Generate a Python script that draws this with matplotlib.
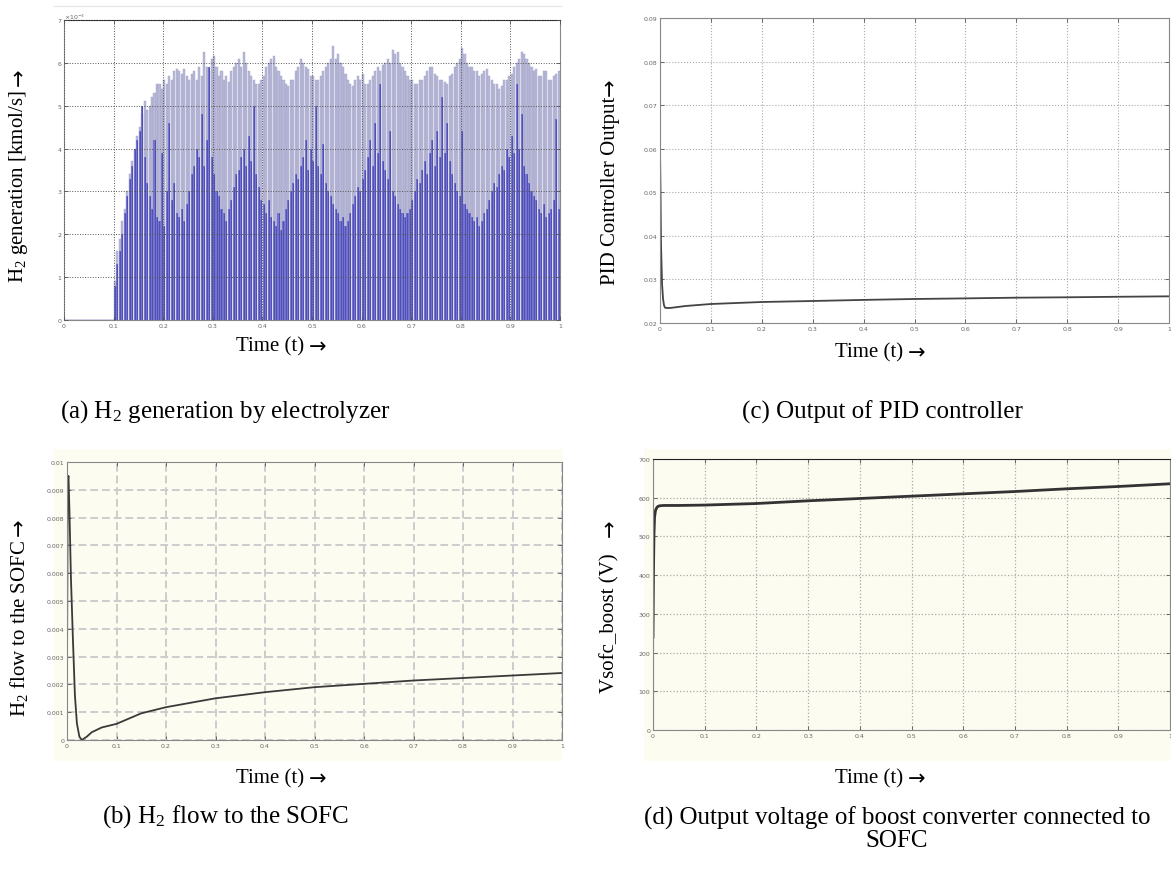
import numpy as np
import matplotlib
matplotlib.use('Agg')
import matplotlib.pyplot as plt
from matplotlib.lines import Line2D
from matplotlib.patches import Rectangle

plt.rcParams['font.family'] = ['Liberation Serif', 'DejaVu Serif']
plt.rcParams['mathtext.default'] = 'regular'

# (a) H2 generation: one spike every 5 ms after 0.1 s, heights in 1e-3 kmol/s
h2_t0 = 0.1025
h2_step = 0.005
h2_peak = [
    0.9, 1.6, 1.9, 2.3, 2.6, 3.0, 3.4, 3.7, 4.0, 4.3,
    4.5, 4.8, 5.1, 4.9, 5.0, 5.2, 5.3, 5.5, 5.5, 5.4,
    5.6, 5.5, 5.7, 5.6, 5.8, 5.85, 5.8, 5.75, 5.85, 5.7,
    5.6, 5.75, 5.8, 5.6, 5.9, 5.7, 6.25, 5.9, 5.8, 6.1,
    6.15, 5.9, 5.7, 5.8, 5.6, 5.7, 5.55, 5.8, 5.9, 6.0,
    6.1, 5.9, 6.25, 6.0, 5.8, 5.7, 5.6, 5.5, 5.5, 5.6,
    5.7, 5.9, 6.0, 6.1, 6.15, 5.9, 5.8, 5.7, 5.6, 5.5,
    5.45, 5.6, 5.6, 5.8, 5.9, 6.1, 6.0, 5.9, 5.85, 5.7,
    5.7, 5.6, 5.6, 5.7, 5.8, 5.9, 6.0, 6.1, 6.4, 6.1,
    6.2, 6.0, 5.9, 5.75, 5.6, 5.5, 5.45, 5.6, 5.7, 5.6,
    5.75, 5.5, 5.5, 5.6, 5.7, 5.8, 5.9, 5.8, 5.95, 6.0,
    6.1, 6.0, 6.3, 6.2, 6.25, 6.0, 5.9, 5.8, 5.7, 5.6,
    5.6, 5.5, 5.5, 5.6, 5.6, 5.7, 5.8, 5.9, 5.9, 5.75,
    5.7, 5.6, 5.6, 5.55, 5.5, 5.7, 5.75, 5.9, 6.0, 6.1,
    6.35, 6.2, 6.0, 5.9, 5.9, 5.8, 5.8, 5.7, 5.75, 5.8,
    5.85, 5.7, 5.6, 5.5, 5.5, 5.4, 5.45, 5.6, 5.6, 5.7,
    5.75, 5.9, 6.0, 6.1, 6.25, 6.2, 6.1, 6.0, 5.9, 5.8,
    5.85, 5.7, 5.7, 5.8, 5.8, 5.6, 5.6, 5.7, 5.75, 5.8,
]
h2_dark = [
    0.8, 1.3, 1.6, 2.0, 2.5, 2.9, 3.3, 3.6, 4.0, 4.2,
    4.4, 5.0, 3.8, 3.2, 2.9, 2.6, 4.2, 2.4, 2.3, 3.9,
    2.2, 3.0, 4.6, 2.8, 3.2, 2.5, 2.4, 2.6, 2.3, 2.7,
    3.0, 3.4, 3.6, 4.0, 3.8, 4.8, 3.6, 4.2, 5.9, 3.8,
    3.4, 3.0, 2.9, 2.6, 2.5, 2.3, 2.6, 2.8, 3.1, 3.4,
    3.5, 3.8, 4.0, 3.6, 4.3, 3.7, 5.0, 3.4, 3.1, 2.8,
    2.7, 2.5, 2.8, 2.4, 2.3, 2.2, 2.5, 2.1, 2.3, 2.6,
    2.8, 3.0, 3.2, 3.4, 3.3, 3.6, 3.8, 4.2, 3.5, 4.0,
    3.7, 5.0, 3.6, 3.4, 4.1, 3.2, 3.0, 2.9, 2.7, 2.6,
    2.5, 2.3, 2.4, 2.2, 2.3, 2.5, 2.7, 2.9, 3.1, 3.0,
    3.3, 3.5, 3.8, 4.2, 3.6, 4.6, 3.9, 5.5, 3.7, 3.5,
    3.3, 4.4, 3.0, 2.9, 2.7, 2.6, 2.5, 2.4, 2.5, 2.6,
    2.8, 3.0, 3.3, 3.2, 3.5, 3.7, 3.4, 3.9, 4.2, 3.6,
    4.4, 3.8, 5.2, 3.9, 4.6, 3.7, 3.4, 3.2, 3.0, 2.9,
    4.4, 2.7, 2.6, 2.5, 2.4, 2.3, 2.4, 2.2, 2.3, 2.5,
    2.6, 2.8, 3.0, 3.2, 3.1, 3.4, 3.6, 3.5, 4.0, 3.8,
    4.3, 3.9, 5.5, 4.0, 4.8, 3.6, 3.4, 3.2, 3.0, 2.9,
    2.8, 2.6, 2.5, 2.7, 2.4, 2.5, 2.6, 2.8, 4.7, 2.6,
]

# (c) PID controller output
pid_t = [0, 0.001, 0.002, 0.004, 0.006, 0.008, 0.01, 0.015, 0.02, 0.05,
         0.1, 0.2, 0.3, 0.4, 0.5, 0.6, 0.7, 0.8, 0.9, 1.0]
pid_y = [0.060, 0.050, 0.038, 0.029, 0.0255, 0.0240, 0.0235, 0.02345, 0.02345, 0.0239,
         0.02436, 0.02482, 0.02505, 0.0253, 0.02551, 0.02565, 0.02581, 0.0259, 0.02602, 0.02612]

# (b) H2 flow to the SOFC
sofc_t = [0, 0.0015, 0.003, 0.005, 0.008, 0.012, 0.016, 0.02, 0.025, 0.03,
          0.04, 0.05, 0.07, 0.1, 0.15, 0.2, 0.3, 0.4, 0.5, 0.6, 0.7, 0.8, 0.9, 1.0]
sofc_y = [0.0024, 0.0093, 0.0095, 0.0082, 0.0058, 0.0036, 0.0016, 0.0006, 0.00012, 0.0,
          0.00012, 0.00028, 0.00045, 0.00058, 0.00096, 0.00118, 0.0015, 0.00172, 0.0019,
          0.00202, 0.00214, 0.00223, 0.00232, 0.00241]

# (d) boost converter output voltage
vb_t = [0, 0.001, 0.002, 0.003, 0.005, 0.008, 0.012, 0.02, 0.05,
        0.1, 0.2, 0.3, 0.4, 0.5, 0.6, 0.7, 0.8, 0.9, 1.0]
vb_y = [240, 420, 510, 550, 568, 576, 579, 580, 580,
        581, 585, 592, 598, 604, 610, 616, 623, 629, 636]

x_ticks = [0, 0.1, 0.2, 0.3, 0.4, 0.5, 0.6, 0.7, 0.8, 0.9, 1]
x_labels = ['0', '0.1', '0.2', '0.3', '0.4', '0.5', '0.6', '0.7', '0.8', '0.9', '1']

W, H = 1171, 878
fig = plt.figure(figsize=(W / 100, H / 100), dpi=100)
renderer = fig.canvas.get_renderer()
ARROW = dict(family='DejaVu Sans', fontsize=15)


def px_axes(l, t, r, b):
    return fig.add_axes([l / W, 1 - b / H, (r - l) / W, (b - t) / H])


def xlabel_arrow(x_start, y, text, gap=5):
    t = fig.text(x_start / W, 1 - y / H, text, ha='left', va='center', fontsize=15)
    bb = t.get_window_extent(renderer)
    fig.text((bb.x1 + gap) / W, 1 - y / H, '→', ha='left', va='center', **ARROW)


def ylabel_arrow(x, y_start, text, gap=4):
    # rotated label reading upwards from y_start, arrow right after it
    t = fig.text(x / W, 1 - y_start / H, text, rotation=90, ha='center', va='bottom',
                 fontsize=15)
    bb = t.get_window_extent(renderer)
    fig.text(x / W, (bb.y1 + gap) / H, '→', rotation=90, ha='center', va='bottom', **ARROW)


def matlab_style(ax, yticks, ylabels, grid_kw):
    ax.set_xlim(0, 1)
    ax.set_xticks(x_ticks)
    ax.set_xticklabels(x_labels)
    ax.set_yticks(yticks)
    ax.set_yticklabels(ylabels)
    ax.tick_params(direction='in', top=True, right=True, length=3, width=0.6,
                   color='#555555', labelsize=4.5, labelcolor='#666666', pad=2)
    for lab in ax.get_xticklabels() + ax.get_yticklabels():
        lab.set_family(['Liberation Sans Narrow', 'DejaVu Sans'])
    for s in ax.spines.values():
        s.set_color('#888888')
        s.set_linewidth(0.8)
    ax.grid(True, **grid_kw)


# background panels of (b) and (d)
fig.add_artist(Rectangle((54 / W, 1 - 762 / H), 508 / W, 312 / H, transform=fig.transFigure,
                         facecolor='#fcfcf1', edgecolor='none', zorder=0))
fig.add_artist(Rectangle((644 / W, 1 - 762 / H), 527 / W, 312 / H, transform=fig.transFigure,
                         facecolor='#fcfcf1', edgecolor='none', zorder=0))
fig.add_artist(Line2D([54 / W, 562 / W], [1 - 7 / H, 1 - 7 / H], transform=fig.transFigure,
                      color='#e6e6e6', lw=0.8))

# (a)
ax = px_axes(64, 21, 560, 321)
t_sp = h2_t0 + h2_step * np.arange(len(h2_peak))
ax.bar(t_sp, np.array(h2_peak) * 1e-3, width=0.0042, color='#b9b9d8',
       edgecolor='#a0a0c6', linewidth=0.3)
ax.bar(t_sp, np.array(h2_dark) * 1e-3, width=0.0042, color='#7474cc', linewidth=0)
ax.vlines(t_sp, 0, np.array(h2_dark) * 1e-3, color='#3434a6', lw=0.4)
ax.plot([0, h2_t0], [0, 0], color='#2b2b9e', lw=1)
ax.set_ylim(0, 7e-3)
matlab_style(ax, [i * 1e-3 for i in range(8)], [str(i) for i in range(8)],
             dict(color='#555555', ls=':', lw=0.7))
ax.set_axisbelow(False)
ax.spines['top'].set_color('#222222')
ax.text(0, 1.005, r'$\times10^{-3}$', transform=ax.transAxes, fontsize=4.5,
        color='#666666', family='DejaVu Sans')
ylabel_arrow(19, 283, 'H$_2$ generation [kmol/s]')
xlabel_arrow(236, 347, 'Time (t)')
fig.text(225 / W, 1 - 412 / H, '(a) H$_2$ generation by electrolyzer',
         ha='center', va='center', fontsize=18)

# (c)
ax = px_axes(660, 19, 1169, 324)
ax.plot(pid_t, pid_y, color='#444444', lw=1.3)
ax.set_ylim(0.02, 0.09)
matlab_style(ax, [0.02, 0.03, 0.04, 0.05, 0.06, 0.07, 0.08, 0.09],
             ['0.02', '0.03', '0.04', '0.05', '0.06', '0.07', '0.08', '0.09'],
             dict(color='#aaaaaa', ls=':', lw=0.8))
ylabel_arrow(610, 285, 'PID Controller Output', gap=1)
xlabel_arrow(835, 353, 'Time (t)')
fig.text(882 / W, 1 - 412 / H, '(c) Output of PID controller',
         ha='center', va='center', fontsize=18)

# (b)
ax = px_axes(67, 463, 562, 741)
ax.set_facecolor('#fcfcf1')
ax.plot(sofc_t, sofc_y, color='#3a3a3a', lw=1.3)
ax.set_ylim(0, 0.01)
matlab_style(ax, [i * 0.001 for i in range(11)],
             ['0', '0.001', '0.002', '0.003', '0.004', '0.005', '0.006', '0.007',
              '0.008', '0.009', '0.01'],
             dict(color='#cccccc', ls=(0, (4, 2)), lw=1.4))
ylabel_arrow(19, 717, 'H$_2$ flow to the SOFC')
xlabel_arrow(236, 779, 'Time (t)')
fig.text(225 / W, 1 - 817 / H, '(b) H$_2$ flow to the SOFC',
         ha='center', va='center', fontsize=18)

# (d)
ax = px_axes(653, 460, 1170, 731)
ax.set_facecolor('#fcfcf1')
ax.plot(vb_t, vb_y, color='#333333', lw=2)
ax.set_ylim(0, 700)
matlab_style(ax, list(range(0, 701, 100)), [str(v) for v in range(0, 701, 100)],
             dict(color='#aaaaaa', ls=':', lw=0.9))
ax.spines['top'].set_color('#222222')
ylabel_arrow(610, 693, 'Vsofc_boost (V)', gap=16)
xlabel_arrow(835, 779, 'Time (t)')
fig.text(897 / W, 1 - 829 / H, '(d) Output voltage of boost converter connected to\nSOFC',
         ha='center', va='center', fontsize=18, linespacing=1.0)

fig.savefig('out.png', dpi=100, facecolor='white')
